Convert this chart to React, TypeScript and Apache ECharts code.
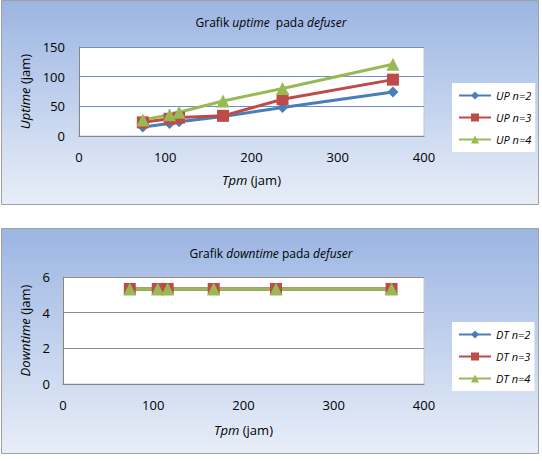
import React, { useEffect, useRef } from "react";
import * as echarts from "echarts";

// Tpm (jam) per inspection interval
const tpm = [74, 105, 116, 167, 236, 364];

// Uptime (jam)
const upN2 = [15, 21, 24, 33, 48, 74];
const upN3 = [23, 29, 31, 34, 62, 95];
const upN4 = [27, 36, 40, 59, 80, 121];

// Downtime (jam)
const dtN2 = [5.33, 5.33, 5.33, 5.33, 5.33, 5.33];
const dtN3 = [5.33, 5.33, 5.33, 5.33, 5.33, 5.33];
const dtN4 = [5.33, 5.33, 5.33, 5.33, 5.33, 5.33];

const upNames = ["UP n=2", "UP n=3", "UP n=4"];
const dtNames = ["DT n=2", "DT n=3", "DT n=4"];

const BLUE = "#4a7ebb";
const RED = "#be4b48";
const GREEN = "#98b954";
const FONT = "'Open Sans', 'Liberation Sans', sans-serif";

const pairs = (ys: number[]) => tpm.map((x, i) => [x, ys[i]]);

const boxFill = {
  type: "linear",
  x: 0,
  y: 0,
  x2: 0,
  y2: 1,
  colorStops: [
    { offset: 0, color: "#9bb5e2" },
    { offset: 1, color: "#e8eef8" },
  ],
};

function lineSeries(
  name: string,
  ys: number[],
  color: string,
  symbol: string,
  size: number,
  axis: number
) {
  return {
    type: "line",
    name,
    data: pairs(ys),
    xAxisIndex: axis,
    yAxisIndex: axis,
    symbol,
    symbolSize: size,
    showAllSymbol: true,
    lineStyle: { color, width: 3 },
    itemStyle: { color },
    emphasis: { disabled: true },
  };
}

export default function App() {
  const ref = useRef<HTMLDivElement>(null);

  useEffect(() => {
    if (!ref.current) return;
    const chart = echarts.init(ref.current, null, { renderer: "svg" });

    const axisLabel = { color: "#000", fontSize: 13, fontFamily: FONT };
    const nameStyle = {
      color: "#000",
      fontSize: 13,
      fontFamily: FONT,
      rich: { i: { fontStyle: "italic", fontSize: 13, fontFamily: FONT, color: "#000" } },
    };
    const titleStyle = {
      color: "#000",
      fontSize: 12,
      fontWeight: "normal",
      fontFamily: FONT,
      rich: { i: { fontStyle: "italic", fontSize: 12, fontFamily: FONT, color: "#000" } },
    };
    const legendBase = {
      orient: "vertical",
      left: 452,
      width: 80,
      padding: [7, 4, 7, 6],
      itemGap: 11,
      itemWidth: 32,
      itemHeight: 10,
      backgroundColor: "#fff",
      textStyle: { color: "#000", fontSize: 11, fontStyle: "italic", fontFamily: FONT },
    };
    const axisLine = { show: true, lineStyle: { color: "#868686" } };

    chart.setOption({
      animation: false,
      graphic: [
        {
          type: "rect",
          shape: { x: 1.5, y: 0.5, width: 537, height: 204 },
          style: { fill: boxFill, stroke: "#a0a0a0", lineWidth: 1 },
          z: -10,
        },
        {
          type: "rect",
          shape: { x: 1.5, y: 228.5, width: 537, height: 225 },
          style: { fill: boxFill, stroke: "#a0a0a0", lineWidth: 1 },
          z: -10,
        },
      ],
      title: [
        {
          text: "Grafik {i|uptime}  pada {i|defuser}",
          left: "center",
          top: 11,
          textStyle: titleStyle,
        },
        {
          text: "Grafik {i|downtime} pada {i|defuser}",
          left: "center",
          top: 242,
          textStyle: titleStyle,
        },
      ],
      legend: [
        { ...legendBase, data: upNames, top: 83 },
        { ...legendBase, data: dtNames, top: 322 },
      ],
      grid: [
        {
          left: 79,
          top: 47,
          width: 345,
          height: 89,
          show: true,
          backgroundColor: "#fff",
          borderColor: "#b9c8e0",
          borderWidth: 1,
        },
        {
          left: 63,
          top: 277,
          width: 361,
          height: 107,
          show: true,
          backgroundColor: "#fff",
          borderColor: "#c8c8c8",
          borderWidth: 1,
        },
      ],
      xAxis: [
        {
          type: "value",
          gridIndex: 0,
          min: 0,
          max: 400,
          interval: 100,
          name: "{i|Tpm} (jam)",
          nameLocation: "middle",
          nameGap: 37,
          nameTextStyle: nameStyle,
          axisLine,
          axisTick: { show: false },
          axisLabel: { ...axisLabel, margin: 14 },
          splitLine: { show: false },
        },
        {
          type: "value",
          gridIndex: 1,
          min: 0,
          max: 400,
          interval: 100,
          name: "{i|Tpm} (jam)",
          nameLocation: "middle",
          nameGap: 39,
          nameTextStyle: nameStyle,
          axisLine,
          axisTick: { show: false },
          axisLabel: { ...axisLabel, margin: 14 },
          splitLine: { show: false },
        },
      ],
      yAxis: [
        {
          type: "value",
          gridIndex: 0,
          min: 0,
          max: 150,
          interval: 50,
          name: "{i|Uptime} (jam)",
          nameLocation: "middle",
          nameGap: 41,
          nameTextStyle: nameStyle,
          axisLine,
          axisTick: { show: false },
          axisLabel: { ...axisLabel, margin: 14 },
          splitLine: { show: true, lineStyle: { color: "#6b8fc6", width: 1 } },
        },
        {
          type: "value",
          gridIndex: 1,
          min: 0,
          max: 6,
          interval: 2,
          name: "{i|Downtime} (jam)",
          nameLocation: "middle",
          nameGap: 25,
          nameTextStyle: nameStyle,
          axisLine,
          axisTick: { show: false },
          axisLabel: { ...axisLabel, margin: 13 },
          splitLine: { show: true, lineStyle: { color: "#8c8c8c", width: 1 } },
        },
      ],
      series: [
        lineSeries(upNames[0], upN2, BLUE, "diamond", 11, 0),
        lineSeries(upNames[1], upN3, RED, "rect", 12, 0),
        lineSeries(upNames[2], upN4, GREEN, "triangle", 13, 0),
        lineSeries(dtNames[0], dtN2, BLUE, "diamond", 11, 1),
        lineSeries(dtNames[1], dtN3, RED, "rect", 12, 1),
        lineSeries(dtNames[2], dtN4, GREEN, "triangle", 13, 1),
      ],
    });

    return () => chart.dispose();
  }, []);

  return (
    <div
      ref={ref}
      style={{ position: "absolute", left: 0, top: 0, width: 542, height: 461 }}
    />
  );
}
